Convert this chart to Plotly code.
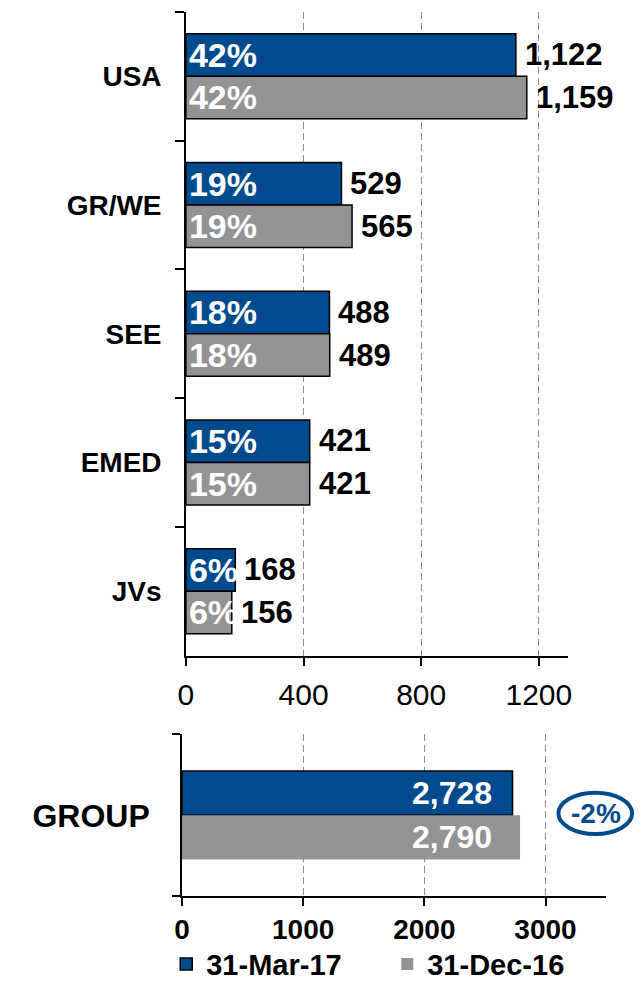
import plotly.graph_objects as go

# ---------------- data ----------------
categories = ["USA", "GR/WE", "SEE", "EMED", "JVs"]
mar17 = [1122, 529, 488, 421, 168]
dec16 = [1159, 565, 489, 421, 156]
share_mar17 = ["42%", "19%", "18%", "15%", "6%"]
share_dec16 = ["42%", "19%", "18%", "15%", "6%"]
group_cat = ["GROUP"]
group_mar17 = [2728]
group_dec16 = [2790]
group_change = "-2%"
series_names = ["31-Mar-17", "31-Dec-16"]
top_ticks = [0, 400, 800, 1200]
bottom_ticks = [0, 1000, 2000, 3000]

# ---------------- style ----------------
BLUE = "#004A8E"
GRAY = "#939393"
GRID = "#8c8c8c"
FONT = "Liberation Sans, Arial, sans-serif"
W, H = 643, 990


def px(x):
    return x / W


def py(y):
    return 1 - y / H


fig = go.Figure()

top_bar = 0.33
bot_bar = 0.274

# top subplot bars
fig.add_trace(go.Bar(
    y=categories, x=mar17, orientation="h", width=top_bar, offset=-top_bar,
    marker=dict(color=BLUE, line=dict(color="black", width=1.5)),
    text=share_mar17, textposition="inside", insidetextanchor="start",
    constraintext="none",
    insidetextfont=dict(color="white", size=34, family=FONT, weight="bold"),
    name=series_names[0], showlegend=False, xaxis="x", yaxis="y", hoverinfo="skip"))
fig.add_trace(go.Bar(
    y=categories, x=dec16, orientation="h", width=top_bar, offset=0,
    marker=dict(color=GRAY, line=dict(color="black", width=1.5)),
    text=share_dec16, textposition="inside", insidetextanchor="start",
    constraintext="none",
    insidetextfont=dict(color="white", size=34, family=FONT, weight="bold"),
    name=series_names[1], showlegend=False, xaxis="x", yaxis="y", hoverinfo="skip"))

# bottom subplot bars
fig.add_trace(go.Bar(
    y=group_cat, x=group_mar17, orientation="h", width=bot_bar, offset=-bot_bar,
    marker=dict(color=BLUE, line=dict(color="black", width=1.5)),
    name=series_names[0], showlegend=True, xaxis="x2", yaxis="y2", hoverinfo="skip"))
fig.add_trace(go.Bar(
    y=group_cat, x=group_dec16, orientation="h", width=bot_bar, offset=0,
    marker=dict(color=GRAY, line=dict(color=GRAY, width=0)),
    name=series_names[1], showlegend=True, xaxis="x2", yaxis="y2", hoverinfo="skip"))

annotations = []
half = 21.5
for cat, a, b in zip(categories, mar17, dec16):
    annotations.append(dict(x=a, y=cat, xref="x", yref="y", text=f"{a:,}",
                            xanchor="left", yanchor="middle", xshift=7, yshift=half,
                            showarrow=False,
                            font=dict(size=31, color="black", family=FONT, weight="bold")))
    annotations.append(dict(x=b, y=cat, xref="x", yref="y", text=f"{b:,}",
                            xanchor="left", yanchor="middle", xshift=7, yshift=-half,
                            showarrow=False,
                            font=dict(size=31, color="black", family=FONT, weight="bold")))

bhalf = 22
for cat, a, b in zip(group_cat, group_mar17, group_dec16):
    annotations.append(dict(x=a, y=cat, xref="x2", yref="y2", text=f"{a:,}",
                            xanchor="right", yanchor="middle", xshift=-19, yshift=bhalf,
                            showarrow=False,
                            font=dict(size=32, color="white", family=FONT, weight="bold")))
    annotations.append(dict(x=b, y=cat, xref="x2", yref="y2", text=f"{b:,}",
                            xanchor="right", yanchor="middle", xshift=-26, yshift=-bhalf,
                            showarrow=False,
                            font=dict(size=32, color="white", family=FONT, weight="bold")))

annotations.append(dict(x=px(598), y=py(825), xref="paper", yref="paper", text=group_change,
                        xanchor="center", yanchor="middle", showarrow=False,
                        font=dict(size=28, color=BLUE, family=FONT, weight="bold")))

shapes = [dict(type="circle", xref="paper", yref="paper",
               x0=px(560), x1=px(635), y0=py(846), y1=py(804),
               line=dict(color=BLUE, width=4), fillcolor="rgba(0,0,0,0)")]

fig.update_layout(
    width=W, height=H, autosize=False,
    margin=dict(l=0, r=0, t=0, b=0, pad=0),
    paper_bgcolor="white", plot_bgcolor="white",
    barmode="overlay",
    font=dict(family=FONT, color="black"),
    xaxis=dict(domain=[px(181), px(570)], anchor="y", range=[0, 1300],
               tickmode="array", tickvals=top_ticks, ticks="outside", ticklen=9,
               tickwidth=1.5, tickcolor="black",
               showline=True, linecolor="black", linewidth=1.5,
               showgrid=True, gridcolor=GRID, gridwidth=1, griddash="7px,4px",
               zeroline=False, ticklabelstandoff=3,
               tickfont=dict(size=30, family=FONT, color="black")),
    yaxis=dict(domain=[py(665), py(12)], anchor="x", type="category",
               categoryorder="array", categoryarray=categories, autorange="reversed",
               tickson="boundaries", ticks="outside", ticklen=9, tickwidth=1.5,
               tickcolor="black", showline=True, linecolor="black", linewidth=1.5,
               showgrid=False, zeroline=False, ticklabelstandoff=17,
               tickfont=dict(size=28, family=FONT, color="black", weight="bold")),
    xaxis2=dict(domain=[px(177), px(608.5)], anchor="y2", range=[0, 3500],
                tickmode="array", tickvals=bottom_ticks, ticks="outside", ticklen=8,
                tickwidth=1.5, tickcolor="black",
                showline=True, linecolor="black", linewidth=1.5,
                showgrid=True, gridcolor=GRID, gridwidth=1, griddash="7px,4px",
                zeroline=False,
                tickfont=dict(size=28, family=FONT, color="black", weight="bold")),
    yaxis2=dict(domain=[py(909), py(745)], anchor="x2", type="category",
                categoryorder="array", categoryarray=group_cat, autorange="reversed",
                tickson="boundaries", ticks="outside", ticklen=8, tickwidth=1.5,
                tickcolor="black", showline=True, linecolor="black", linewidth=1.5,
                showgrid=False, zeroline=False, ticklabelstandoff=24,
                tickfont=dict(size=32, family=FONT, color="black", weight="bold")),
    legend=dict(orientation="h", x=px(161), xanchor="left", y=py(978), yanchor="middle",
                entrywidth=176, entrywidthmode="pixels", traceorder="normal",
                font=dict(size=29, family=FONT, color="black", weight="bold"),
                bgcolor="rgba(0,0,0,0)", borderwidth=0),
    annotations=annotations,
    shapes=shapes,
)

fig.write_html("out.html", config={"displayModeBar": False},
               post_script="document.body.style.margin='0px';document.body.style.overflow='hidden';")
